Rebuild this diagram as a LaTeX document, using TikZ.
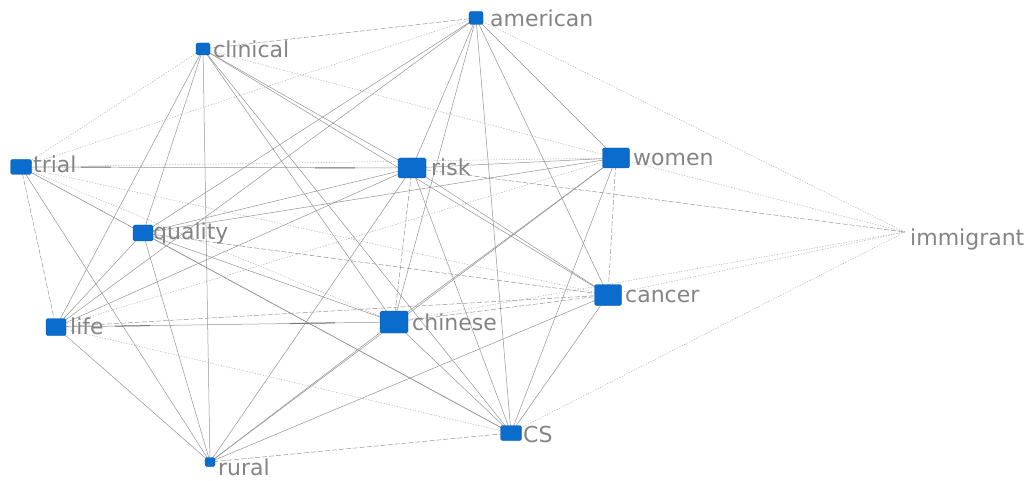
\documentclass[tikz,border=0pt]{standalone}
\usepackage{fontspec}
\setmainfont{DejaVu Sans}
\usetikzlibrary{backgrounds}
\definecolor{nodeblue}{RGB}{10,108,204}
\definecolor{lblgray}{RGB}{132,132,132}
\definecolor{edgegray}{RGB}{120,120,120}
\tikzset{
  nd/.style={fill=nodeblue, draw=nodeblue!80!black, line width=0.3pt, rounded corners=1.5pt, inner sep=0pt},
  lbl/.style={text=lblgray, font=\fontsize{22}{22}\selectfont, inner sep=0pt, anchor=base west},
  e/.style={draw=edgegray!80, line width=0.5pt},
  ed/.style={draw=edgegray!80, line width=0.5pt, dash pattern=on 5pt off 2pt},
  et/.style={draw=edgegray!60, line width=0.5pt, dash pattern=on 1.2pt off 1.5pt},
  hv/.style={draw=edgegray, line width=1pt},
}
\begin{document}
\begin{tikzpicture}[x=1pt,y=-1pt]
\useasboundingbox (0,0) rectangle (1028,481);
% nodes
\node[nd, minimum width=14, minimum height=13] (american) at (476,18) {};
\node[nd, minimum width=14, minimum height=12] (clinical) at (203,49) {};
\node[nd, minimum width=21, minimum height=15] (trial) at (21,167) {};
\node[nd, minimum width=28, minimum height=20] (risk) at (412,168) {};
\node[nd, minimum width=27, minimum height=20] (women) at (616,158) {};
\node[nd, minimum width=20, minimum height=16] (quality) at (143,233) {};
\coordinate (immigrant) at (905,232);
\node[nd, minimum width=27, minimum height=21] (cancer) at (608,295) {};
\node[nd, minimum width=20, minimum height=17] (life) at (56,327) {};
\node[nd, minimum width=28, minimum height=22] (chinese) at (394,322) {};
\node[nd, minimum width=21, minimum height=15] (CS) at (511,433) {};
\node[nd, minimum width=10, minimum height=9] (rural) at (210,462) {};
% labels
\node[lbl] (american-l) at (490,27) {american};
\node[lbl] (clinical-l) at (213,58) {clinical};
\node[lbl] (trial-l) at (33,173) {trial};
\node[lbl] (risk-l) at (431,176) {risk};
\node[lbl] (women-l) at (633,166) {women};
\node[lbl] (quality-l) at (153,240) {quality};
\node[lbl] (immigrant-l) at (910,245) {immigrant};
\node[lbl] (cancer-l) at (625,302) {cancer};
\node[lbl] (life-l) at (70,334) {life};
\node[lbl] (chinese-l) at (412,330) {chinese};
\node[lbl] (CS-l) at (523,442) {CS};
\node[lbl] (rural-l) at (218,475) {rural};
% edges
\begin{scope}[on background layer]
\draw[ed] (american.center) -- (clinical.center);
\draw[et] (american.center) -- (trial.center);
\draw[e] (american.center) -- (risk.center);
\draw[e] (american.center) -- (women.center);
\draw[et] (american.center) -- (immigrant);
\draw[e] (american.center) -- (cancer.center);
\draw[e] (american.center) -- (CS.center);
\draw[e] (american.center) -- (chinese.center);
\draw[e] (american.center) -- (quality.center);
\draw[e] (american.center) -- (life.center);
\draw[et] (clinical.center) -- (trial.center);
\draw[e] (clinical.center) -- (risk.center);
\draw[et] (clinical.center) -- (women.center);
\draw[e] (clinical.center) -- (cancer.center);
\draw[e] (clinical.center) -- (chinese.center);
\draw[e] (clinical.center) -- (CS.center);
\draw[e] (clinical.center) -- (life.center);
\draw[e] (clinical.center) -- (rural.center);
\draw[e] (clinical.center) -- (quality.center);
\draw[e] (trial.center) -- (risk.center);
\draw[hv, dash pattern=on 0pt off 60pt on 30pt off 204pt on 40pt off 1000pt] (trial.center) -- (risk.center);
\draw[et] (trial.center) -- (women.center);
\draw[et] (trial.center) -- (quality.center);
\draw[ed] (trial.center) -- (life.center);
\draw[e] (trial.center) -- (rural.center);
\draw[et] (trial.center) -- (chinese.center);
\draw[et] (trial.center) -- (cancer.center);
\draw[e] (trial.center) -- (CS.center);
\draw[e] (risk.center) -- (women.center);
\draw[e] (risk.center) -- (quality.center);
\draw[e] (risk.center) -- (life.center);
\draw[ed] (risk.center) -- (chinese.center);
\draw[e] (risk.center) -- (cancer.center);
\draw[e] (risk.center) -- (CS.center);
\draw[ed] (risk.center) -- (immigrant);
\draw[e] (risk.center) -- (rural.center);
\draw[e] (women.center) -- (quality.center);
\draw[et] (women.center) -- (life.center);
\draw[e] (women.center) -- (chinese.center);
\draw[ed] (women.center) -- (cancer.center);
\draw[e] (women.center) -- (CS.center);
\draw[et] (women.center) -- (immigrant);
\draw[e] (women.center) -- (rural.center);
\draw[e] (quality.center) -- (chinese.center);
\draw[ed] (quality.center) -- (cancer.center);
\draw[e] (quality.center) -- (CS.center);
\draw[e] (quality.center) -- (rural.center);
\draw[e] (quality.center) -- (life.center);
\draw[e] (life.center) -- (chinese.center);
\draw[hv, dash pattern=on 0pt off 59pt on 35pt off 140pt on 45pt off 1000pt] (life.center) -- (chinese.center);
\draw[ed] (chinese.center) -- (cancer.center);
\draw[e] (chinese.center) -- (CS.center);
\draw[e] (chinese.center) -- (rural.center);
\draw[et] (chinese.center) -- (immigrant);
\draw[ed] (cancer.center) -- (life.center);
\draw[e] (cancer.center) -- (CS.center);
\draw[e] (cancer.center) -- (rural.center);
\draw[et] (cancer.center) -- (immigrant);
\draw[et] (CS.center) -- (life.center);
\draw[ed] (CS.center) -- (rural.center);
\draw[et] (CS.center) -- (immigrant);
\draw[e] (life.center) -- (rural.center);
\end{scope}
\end{tikzpicture}
\end{document}
